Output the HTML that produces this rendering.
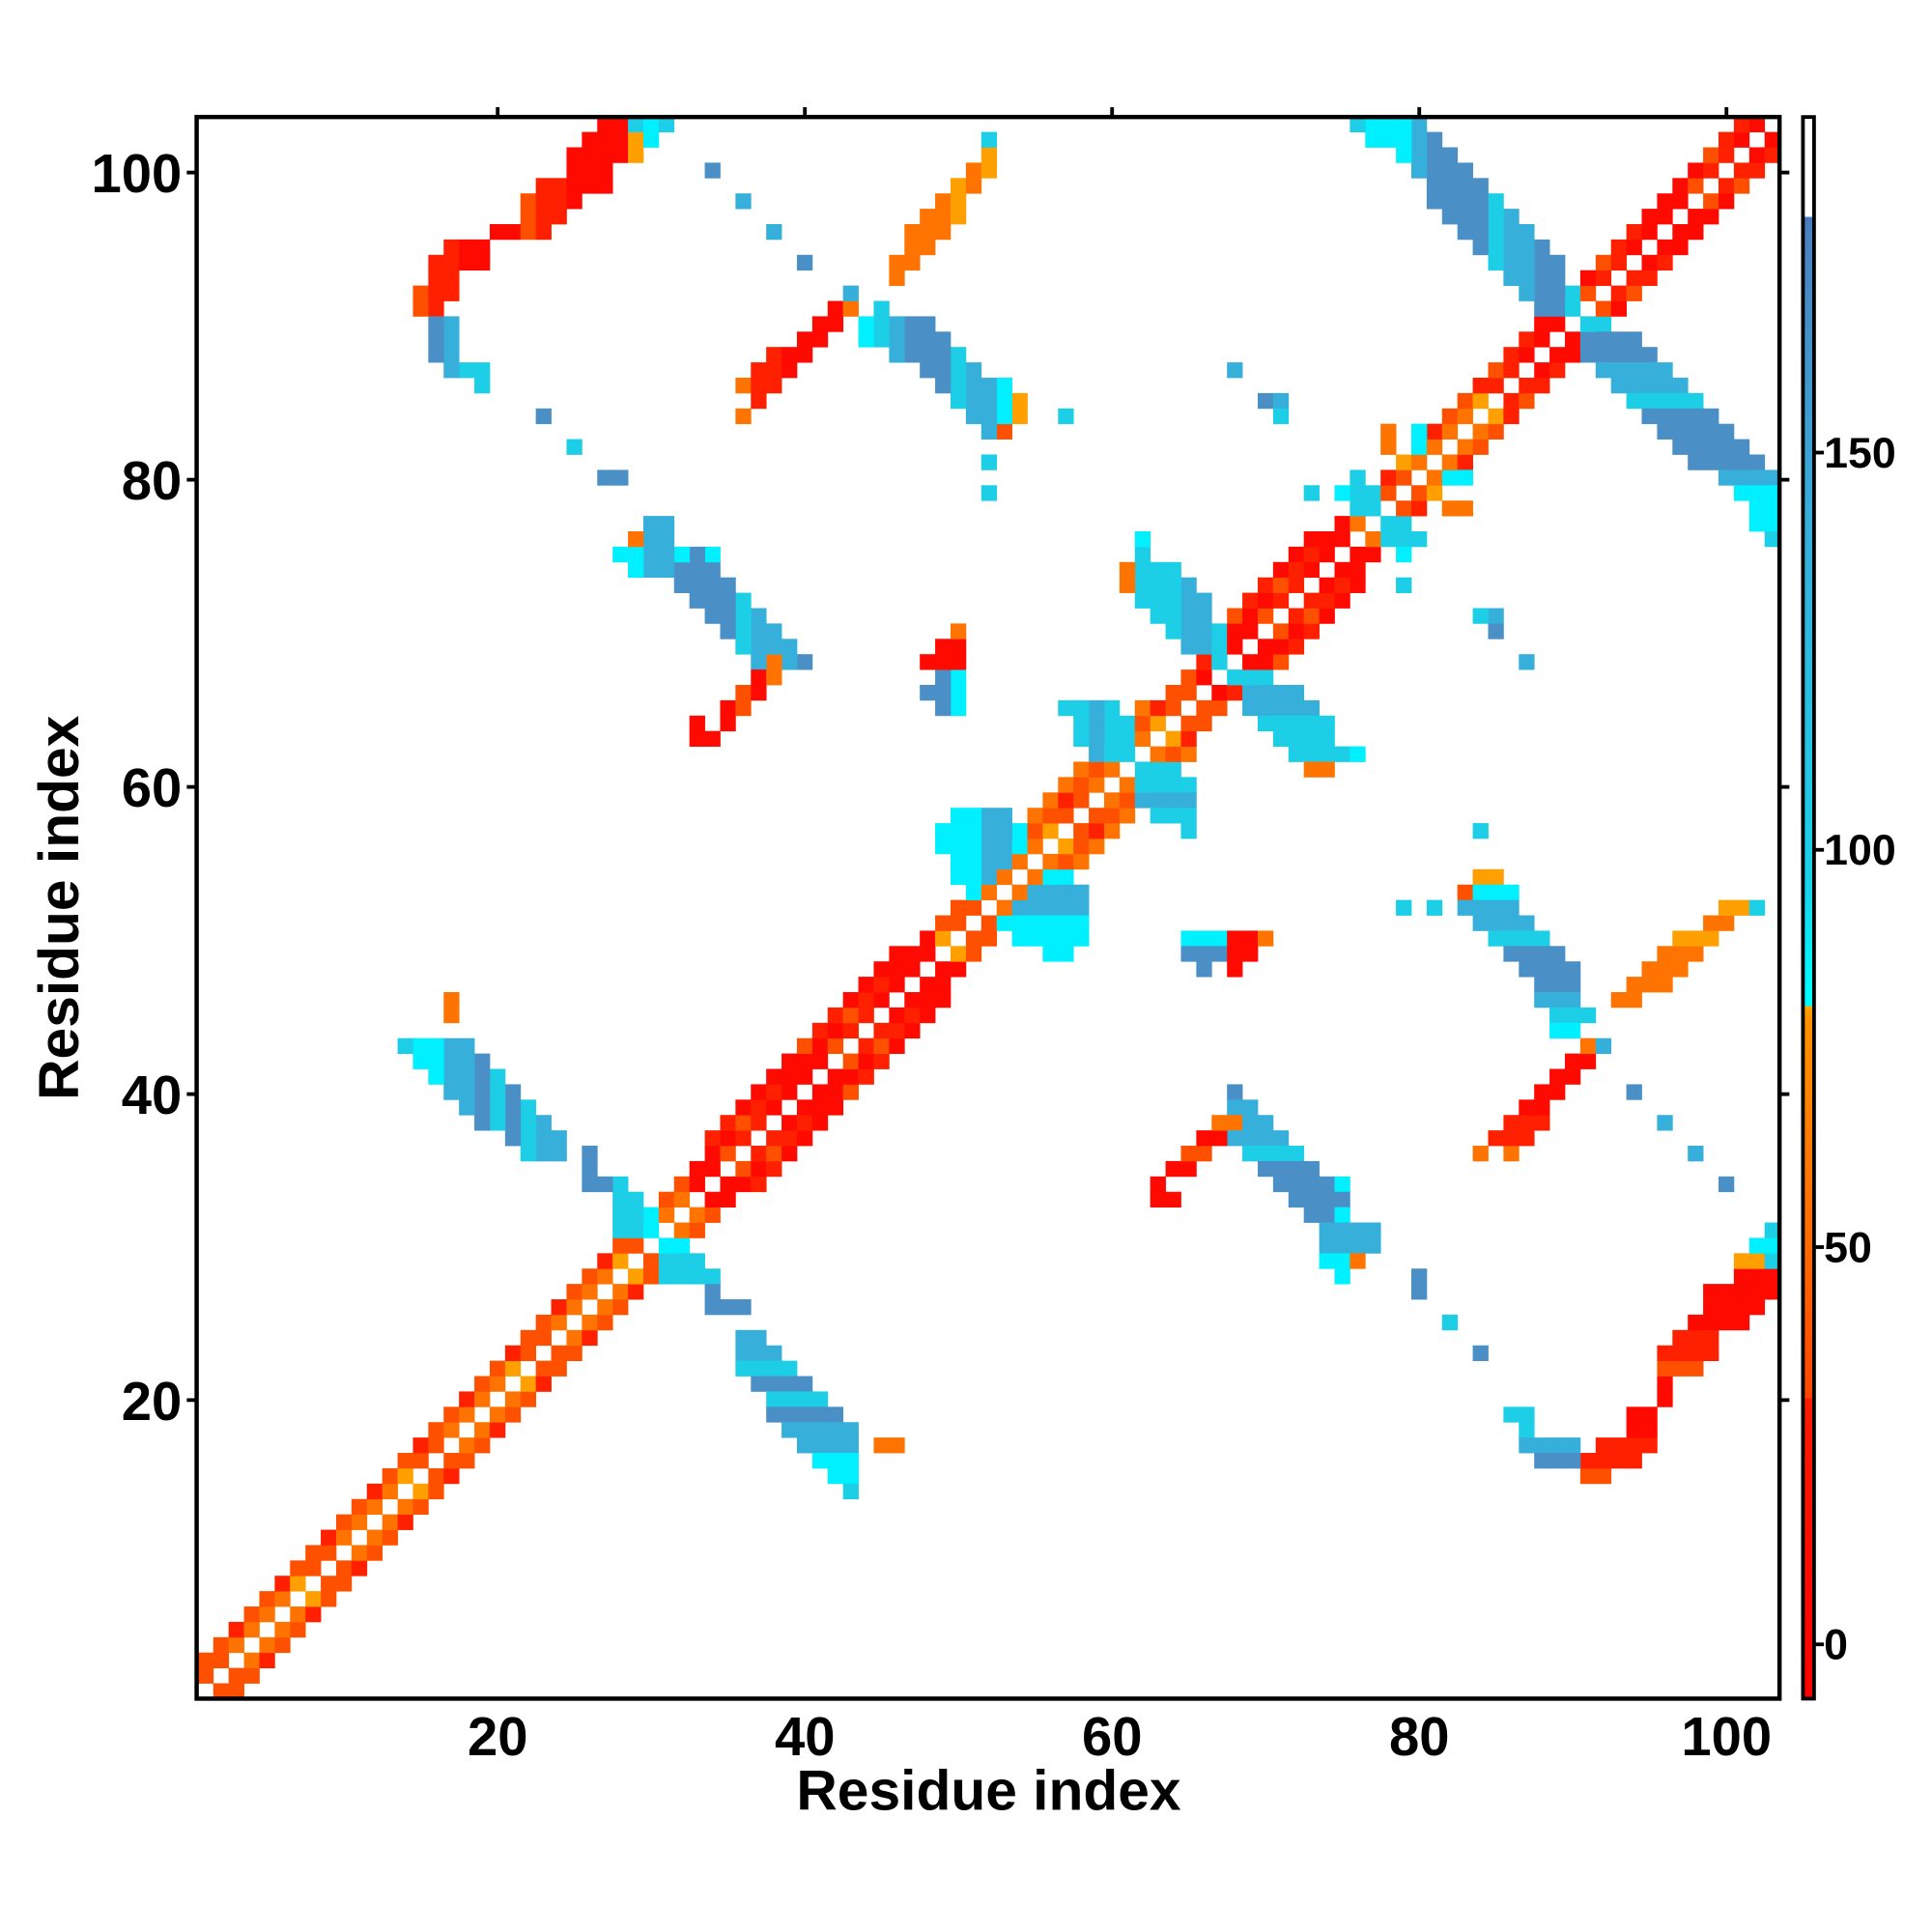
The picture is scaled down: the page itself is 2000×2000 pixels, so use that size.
<!DOCTYPE html>
<html><head><meta charset="utf-8"><style>
html,body{margin:0;padding:0;background:#fff;}
svg{display:block;}
text{font-family:"Liberation Sans",sans-serif;font-weight:bold;fill:#000;}
</style></head><body>
<svg id="s" width="2000" height="2000" viewBox="-1.4 -0.85 1566 1566" xmlns="http://www.w3.org/2000/svg">
<defs>
<linearGradient id="cb" x1="0" y1="1" x2="0" y2="0">
<stop offset="0" stop-color="#ff0000"/>
<stop offset="0.19" stop-color="#ff1a00"/>
<stop offset="0.19" stop-color="#ff4500"/>
<stop offset="0.29" stop-color="#ff6a00"/>
<stop offset="0.43" stop-color="#ff9000"/>
<stop offset="0.438" stop-color="#ffa800"/>
<stop offset="0.438" stop-color="#00ffff"/>
<stop offset="0.52" stop-color="#1ad0e8"/>
<stop offset="0.75" stop-color="#38acd8"/>
<stop offset="0.93" stop-color="#4a80c0"/>
<stop offset="0.937" stop-color="#4a78bc"/>
<stop offset="0.937" stop-color="#ffffff"/>
<stop offset="1" stop-color="#ffffff"/>
</linearGradient>
</defs>
<g id="cells"></g>
<rect x="158" y="94" width="1283" height="1282" fill="none" stroke="#000" stroke-width="3.5"/>
<g stroke="#000" stroke-width="3">
<line x1="402" y1="86" x2="402" y2="94"/><line x1="651" y1="86" x2="651" y2="94"/><line x1="900" y1="86" x2="900" y2="94"/><line x1="1149" y1="86" x2="1149" y2="94"/><line x1="1398" y1="86" x2="1398" y2="94"/>
<line x1="1441" y1="139" x2="1449" y2="139"/><line x1="1441" y1="388" x2="1449" y2="388"/><line x1="1441" y1="637" x2="1449" y2="637"/><line x1="1441" y1="886" x2="1449" y2="886"/><line x1="1441" y1="1134" x2="1449" y2="1134"/>
<line x1="150" y1="139" x2="158" y2="139"/><line x1="150" y1="388" x2="158" y2="388"/><line x1="150" y1="637" x2="158" y2="637"/><line x1="150" y1="886" x2="158" y2="886"/><line x1="150" y1="1134" x2="158" y2="1134"/>
<line x1="1469" y1="1332" x2="1477" y2="1332"/><line x1="1469" y1="1010" x2="1477" y2="1010"/><line x1="1469" y1="688" x2="1477" y2="688"/><line x1="1469" y1="366" x2="1477" y2="366"/>
</g>
<g font-size="44" text-anchor="middle">
<text x="402" y="1422">20</text><text x="651" y="1422">40</text><text x="900" y="1422">60</text><text x="1149" y="1422">80</text><text x="1398" y="1422">100</text>
</g>
<g font-size="44" text-anchor="end">
<text x="146" y="155">100</text><text x="146" y="404">80</text><text x="146" y="653">60</text><text x="146" y="902">40</text><text x="146" y="1150">20</text>
</g>
<text x="800" y="1466" font-size="46" text-anchor="middle">Residue index</text>
<text transform="translate(62,735) rotate(-90)" font-size="46" text-anchor="middle">Residue index</text>
<rect x="1460" y="94" width="9" height="1282" fill="url(#cb)" stroke="#000" stroke-width="3"/>
<g font-size="35">
<text x="1477" y="1344">0</text><text x="1477" y="1022">50</text><text x="1477" y="700">100</text><text x="1477" y="378">150</text>
</g>
</svg>
<script>
(function(){
var C={R:"#ff0a00",R2:"#ff2000",OR:"#ff5000",O:"#ff7400",O2:"#ffa000",C:"#00f0ff",C2:"#1ccfe6",B1:"#36b0da",B:"#4a90c6"};
var grid={};
function put(i,j,col){ if(i<1||j<1||i>103||j>103||i==j) return; grid[i+","+j]=col; grid[j+","+i]=col; }
function mix(t,i,j){
  var h=(i*7+j*13)%7;
  if(t=="b"){return h<4?C.B:(h<6?C.B1:C.C2);}
  if(t=="c"){return h<3?C.C2:(h<5?C.B1:C.C);}
  if(t=="r"){return h<4?C.R:(h<6?C.R2:C.OR);}
  if(t=="o"){return h<4?C.O:(h<6?C.OR:C.O2);}
  return C[t];
}
function isHelix(i){return (i>=33&&i<=48)||(i>=66&&i<=75)||(i>=85);}
for(var i=1;i<=103;i++){
  if(isHelix(i)){
    put(i+1,i,mix("r",i,i+1)); put(i+2,i,mix("r",i+2,i));
    if((i>=34&&i<=46)||(i>=66&&i<=73)) put(i+3,i,mix("r",i,i+3));
  } else {
    put(i+1,i,mix("o",i,i+1)); put(i+2,i,(i%3==0)?C.R2:C.OR);
    if(i>=52&&i<=62) put(i+3,i,C.O);
  }
}
var rows=[
[24,36,37,"b"],[23,36,38,"b"],[22,36,39,"b"],[21,37,40,"b"],[20,38,41,"c"],[19,38,42,"b"],[18,39,43,"c"],[17,40,43,"b"],[16,41,43,"c"],[15,42,43,"c"],[14,43,43,"C2"],[17,45,46,"O"],
[30,31,32,"C"],[29,31,33,"C2"],[28,31,34,"c"],[27,34,34,"B"],[26,34,36,"B"],
[15,91,92,"r"],[16,91,94,"r"],[17,92,95,"r"],[18,94,95,"r"],[19,94,95,"r"],[20,96,96,"r"],[21,96,96,"r"],[22,96,98,"r"],[23,96,99,"r"],[24,97,99,"r"],[25,98,101,"r"],[26,99,102,"r"],[27,99,103,"r"],[28,101,103,"r"],[29,101,102,"o"],[29,103,103,"C2"],[30,102,103,"C"],[31,103,103,"C2"],
[19,86,87,"C2"],[18,87,87,"C2"],[17,87,90,"c"],[16,88,90,"B"],
[23,84,84,"B"],[25,82,82,"C2"],[27,80,80,"B"],[28,80,80,"B"],
[40,68,68,"b"],[39,68,69,"c"],[38,68,70,"b"],[37,68,71,"b"],[36,69,72,"b"],[35,70,73,"b"],[34,71,74,"b"],[34,75,75,"C"],[33,72,75,"b"],[32,73,74,"b"],[32,75,75,"C"],[31,74,77,"c"],[30,74,77,"B1"],[29,74,75,"C"],[29,76,76,"O"],[28,75,75,"C"],
[33,63,64,"R"],[34,63,63,"R"],[35,64,65,"r"],[36,65,66,"r"],[37,66,67,"R"],[38,67,68,"O"],
[36,84,84,"O"],[36,86,86,"O"],[37,85,87,"r"],[38,86,88,"r"],[39,87,88,"R"],[40,88,89,"r"],[41,89,90,"R"],[42,90,91,"r"],[43,91,91,"O"],
[46,93,94,"O"],[47,94,96,"o"],[48,95,97,"o"],[49,96,98,"o"],[50,97,99,"o"],[51,99,100,"O"],[52,100,101,"O2"],[52,102,102,"C2"],
[40,94,94,"B"],[38,96,96,"B1"],[36,98,98,"B1"],[34,100,100,"B"],
[54,84,85,"O2"],[53,83,83,"OR"],[53,84,86,"C"],[52,81,81,"C2"],[52,83,86,"b"],[51,84,87,"b"],[50,85,88,"b"],[49,86,89,"b"],[48,87,90,"b"],[47,88,90,"b"],[46,88,90,"c"],[45,89,91,"C2"],[44,89,90,"c"],[43,92,92,"B1"],[57,84,84,"C2"],[52,79,79,"C2"],
[54,56,57,"C"],[53,55,58,"c"],[52,54,58,"c"],[51,53,58,"C"],[50,54,58,"C"],[49,56,57,"C"],
[50,65,67,"c"],[49,65,67,"b"],[48,66,66,"B"],[50,68,69,"R"],[49,68,69,"R"],[48,68,68,"R"],[50,70,70,"O"],
[61,62,64,"C2"],[60,62,65,"C2"],[59,62,65,"c"],[58,63,65,"C2"],[57,65,65,"C2"],
[67,68,70,"C2"],[66,69,72,"b"],[65,69,73,"b"],[64,70,74,"b"],[63,71,74,"c"],[62,72,75,"C2"],[62,76,76,"C"],[61,73,74,"O"],
[89,91,94,"b"],[88,91,95,"b"],[87,92,96,"b"],[86,93,97,"b"],[85,94,98,"b"],[84,95,99,"b"],[83,96,100,"b"],[82,97,101,"b"],[81,98,102,"b"],[80,100,103,"b"],[79,101,103,"c"],[78,102,103,"c"],[77,102,103,"C"],[76,103,103,"C2"],
[90,91,92,"C2"],
[70,85,85,"B"],[71,85,85,"B1"],[71,84,84,"C2"],[68,87,87,"B1"],[73,79,79,"C2"],
[77,78,79,"C2"],[76,78,80,"c"],[75,79,79,"C"],[80,82,83,"C"],[78,82,83,"O"],[79,81,81,"O2"]
];
rows.forEach(function(r){for(var i=r[1];i<=r[2];i++){put(i,r[0],mix(r[3],i,r[0]));}});
var g=document.getElementById("cells"),s="";
var w=12.45;
for(var k in grid){var p=k.split(",");var i=+p[0],j=+p[1];
  var x=159+(i-1)*w, y=1376-j*w;
  s+='<rect x="'+x.toFixed(2)+'" y="'+y.toFixed(2)+'" width="12.75" height="12.75" fill="'+grid[k]+'"/>';
}
g.innerHTML=s;
})();
</script>
</body></html>
